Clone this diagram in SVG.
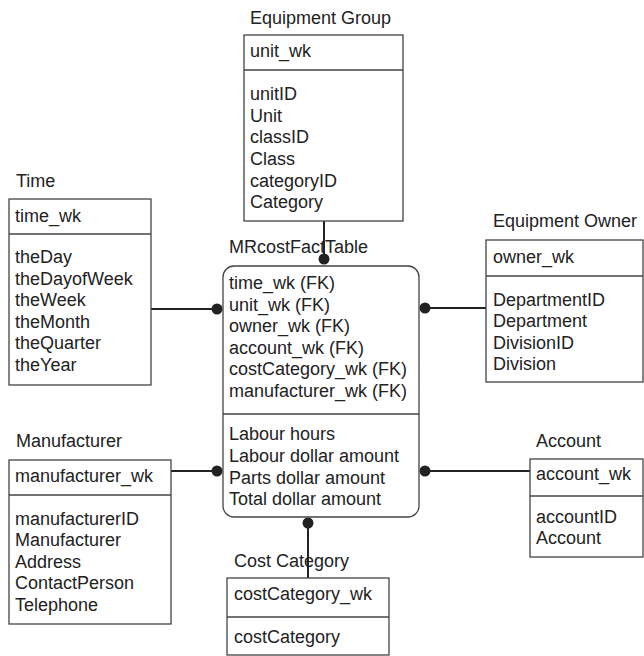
<svg xmlns="http://www.w3.org/2000/svg" width="644" height="656" viewBox="0 0 644 656">
<style>
text{font-family:"Liberation Sans",Arial,sans-serif;font-size:18px;fill:#222}
.box{fill:#fff;stroke:#444;stroke-width:1.3}
.div{stroke:#444;stroke-width:1.3}
.con{stroke:#222;stroke-width:2;fill:none}
.dot{fill:#222}
</style>
<rect width="644" height="656" fill="#fff"/>
<g id="connectors">
<line class="con" x1="324" y1="221" x2="324" y2="259"/>
<circle class="dot" cx="324" cy="259" r="5.5"/>
<line class="con" x1="151" y1="309" x2="217" y2="309"/>
<circle class="dot" cx="217" cy="309" r="5.5"/>
<line class="con" x1="425" y1="308" x2="486" y2="308"/>
<circle class="dot" cx="425" cy="308" r="5.5"/>
<line class="con" x1="171" y1="471" x2="217" y2="471"/>
<circle class="dot" cx="217" cy="471" r="5.5"/>
<line class="con" x1="425" y1="471" x2="530" y2="471"/>
<circle class="dot" cx="425" cy="471" r="5.5"/>
<line class="con" x1="308" y1="523" x2="308" y2="578"/>
<circle class="dot" cx="308" cy="523" r="5.5"/>
</g>
<g id="equipment-group">
<text x="250" y="24">Equipment Group</text>
<rect class="box" x="244" y="35" width="159" height="186"/>
<line class="div" x1="244" y1="70" x2="403" y2="70"/>
<text x="250" y="57">unit_wk</text>
<text x="250" y="100">unitID</text>
<text x="250" y="122">Unit</text>
<text x="250" y="143">classID</text>
<text x="250" y="165">Class</text>
<text x="250" y="187">categoryID</text>
<text x="250" y="208">Category</text>
</g>
<g id="time">
<text x="16" y="187">Time</text>
<rect class="box" x="9" y="199" width="142" height="186"/>
<line class="div" x1="9" y1="234" x2="151" y2="234"/>
<text x="15" y="222">time_wk</text>
<text x="15" y="263">theDay</text>
<text x="15" y="285">theDayofWeek</text>
<text x="15" y="306">theWeek</text>
<text x="15" y="328">theMonth</text>
<text x="15" y="349">theQuarter</text>
<text x="15" y="371">theYear</text>
</g>
<g id="fact">
<text x="229" y="253">MRcostFactTable</text>
<rect class="box" x="223" y="266" width="196" height="251" rx="11"/>
<line class="div" x1="223" y1="414" x2="419" y2="414"/>
<text x="229" y="289">time_wk (FK)</text>
<text x="229" y="311">unit_wk (FK)</text>
<text x="229" y="332">owner_wk (FK)</text>
<text x="229" y="354">account_wk (FK)</text>
<text x="229" y="375">costCategory_wk (FK)</text>
<text x="229" y="397">manufacturer_wk (FK)</text>
<text x="229" y="440">Labour hours</text>
<text x="229" y="462">Labour dollar amount</text>
<text x="229" y="484">Parts dollar amount</text>
<text x="229" y="505">Total dollar amount</text>
</g>
<g id="equipment-owner">
<text x="493" y="227">Equipment Owner</text>
<rect class="box" x="486" y="240" width="157" height="142"/>
<line class="div" x1="486" y1="276" x2="643" y2="276"/>
<text x="493" y="263">owner_wk</text>
<text x="493" y="306">DepartmentID</text>
<text x="493" y="327">Department</text>
<text x="493" y="349">DivisionID</text>
<text x="493" y="370">Division</text>
</g>
<g id="manufacturer">
<text x="16" y="447">Manufacturer</text>
<rect class="box" x="9" y="460" width="162" height="164"/>
<line class="div" x1="9" y1="495" x2="171" y2="495"/>
<text x="15" y="482">manufacturer_wk</text>
<text x="15" y="525">manufacturerID</text>
<text x="15" y="546">Manufacturer</text>
<text x="15" y="568">Address</text>
<text x="15" y="589">ContactPerson</text>
<text x="15" y="611">Telephone</text>
</g>
<g id="account">
<text x="536" y="447">Account</text>
<rect class="box" x="530" y="459" width="113" height="98"/>
<line class="div" x1="530" y1="496" x2="643" y2="496"/>
<text x="536" y="480">account_wk</text>
<text x="536" y="523">accountID</text>
<text x="536" y="544">Account</text>
</g>
<g id="cost-category">
<text x="234" y="567">Cost Category</text>
<rect class="box" x="227" y="578" width="162" height="77"/>
<line class="div" x1="227" y1="617" x2="389" y2="617"/>
<text x="234" y="600">costCategory_wk</text>
<text x="234" y="643">costCategory</text>
</g>
</svg>
